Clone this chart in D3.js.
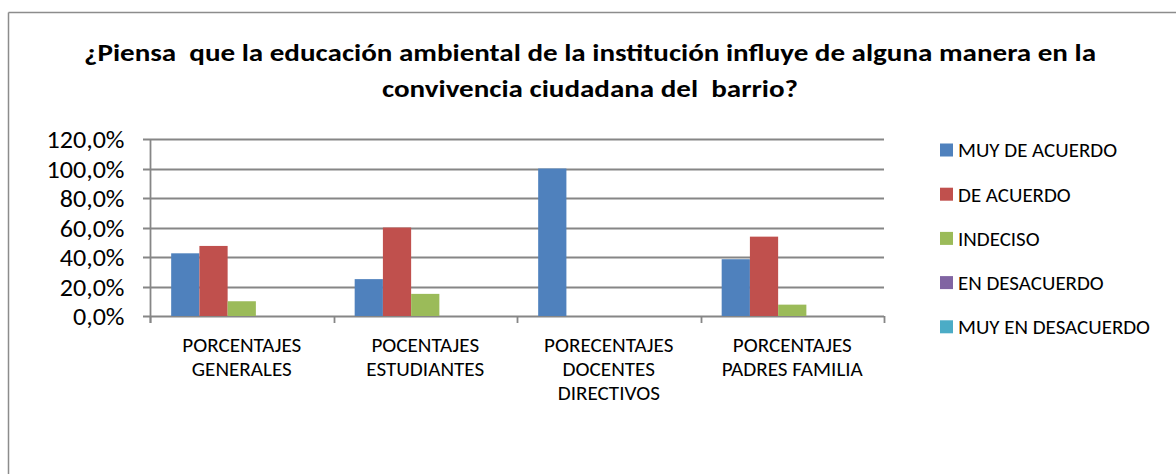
<!DOCTYPE html>
<html>
<head>
<meta charset="utf-8">
<script src="https://cdn.jsdelivr.net/npm/d3@7"></script>
<style>
  body { margin: 0; background: #fff; }
  text { font-family: Carlito, Calibri, Lato, "Open Sans", sans-serif; fill: #000; white-space: pre; }
</style>
</head>
<body>
<svg id="chart" width="1176" height="474"></svg>
<script>
// data
var categories = [
	["PORCENTAJES", "GENERALES"],
	["POCENTAJES", "ESTUDIANTES"],
	["PORECENTAJES", "DOCENTES", "DIRECTIVOS"],
	["PORCENTAJES", "PADRES FAMILIA"]
];
var series = ["MUY DE ACUERDO", "DE ACUERDO", "INDECISO", "EN DESACUERDO", "MUY EN DESACUERDO"];
var muyDeAcuerdo = [0.425, 0.25, 1.0, 0.385];
var deAcuerdo = [0.475, 0.60, 0, 0.538];
var indeciso = [0.10, 0.15, 0, 0.077];
var enDesacuerdo = [0, 0, 0, 0];
var muyEnDesacuerdo = [0, 0, 0, 0];
var yTicks = [0, 0.2, 0.4, 0.6, 0.8, 1.0, 1.2];
var titleLines = ["¿Piensa  que la educación ambiental de la institución influye de alguna manera en la", "convivencia ciudadana del  barrio?"];

var values = [muyDeAcuerdo, deAcuerdo, indeciso, enDesacuerdo, muyEnDesacuerdo];
var colors = ["#4F81BD", "#C0504D", "#9BBB59", "#8064A2", "#4BACC6"];
var gridColor = "#868686";

var svg = d3.select("#chart");

// fit a group of texts so a reference string gets the wanted width
function fitGroup(sel, refWidth, refNatural) {
	var k = refWidth / refNatural;
	sel.each(function () {
		var w = this.getComputedTextLength();
		d3.select(this).attr("textLength", w * k).attr("lengthAdjust", "spacingAndGlyphs");
	});
}

// outer frame (top and left only visible)
svg.append("line").attr("x1", 8.5).attr("y1", 12.5).attr("x2", 1176).attr("y2", 12.5)
	.attr("stroke", "#8c8c8c").attr("stroke-width", 1.5);
svg.append("line").attr("x1", 8.5).attr("y1", 12.5).attr("x2", 8.5).attr("y2", 474)
	.attr("stroke", "#8c8c8c").attr("stroke-width", 1.5);

// title
var title = svg.selectAll(".title").data(titleLines).enter().append("text")
	.attr("class", "title")
	.attr("x", 590)
	.attr("y", function (d, i) { return 61 + i * 36; })
	.attr("text-anchor", "middle")
	.style("font-size", "24px")
	.style("font-weight", "bold")
	.text(function (d) { return d; });
var t0 = title.node().getComputedTextLength();
fitGroup(title, 1012, t0);

// scales
var x0 = d3.scaleBand().domain(d3.range(categories.length)).range([150, 884]).paddingInner(0).paddingOuter(0);
var x1 = d3.scaleBand().domain(d3.range(series.length)).range([0, x0.bandwidth()]).paddingOuter(0.75);
var y = d3.scaleLinear().domain([0, 1.2]).range([316, 139]);

// gridlines
svg.append("g").selectAll("line").data(yTicks).enter().append("line")
	.attr("x1", 143).attr("x2", 884)
	.attr("y1", function (d) { return Math.round(y(d)) + 0.5; })
	.attr("y2", function (d) { return Math.round(y(d)) + 0.5; })
	.attr("stroke", gridColor).attr("stroke-width", 1.8);

// bars
var groups = svg.append("g").selectAll("g").data(categories).enter().append("g")
	.attr("transform", function (d, i) { return "translate(" + x0(i) + ",0)"; });
groups.selectAll("rect")
	.data(function (d, ci) { return values.map(function (s, si) { return { s: si, v: s[ci] }; }); })
	.enter().append("rect")
	.attr("x", function (d) { return x1(d.s); })
	.attr("width", x1.bandwidth())
	.attr("y", function (d) { return y(d.v); })
	.attr("height", function (d) { return y(0) - y(d.v); })
	.attr("fill", function (d) { return colors[d.s]; });

// axes
var yAxis = svg.append("g").attr("transform", "translate(150.5,0)")
	.call(d3.axisLeft(y).tickValues(yTicks).tickSize(0).tickPadding(26)
		.tickFormat(function (d) { return d3.format(".1f")(d * 100).replace(".", ",") + "%"; }));
yAxis.select(".domain").attr("stroke", gridColor).attr("stroke-width", 1.8).attr("d", "M0,139V323");
yAxis.selectAll("text").style("font-size", "25px").attr("dy", "0.35em")
	.style("font-family", "Carlito, Calibri, Lato, 'Open Sans', sans-serif");
var yLab = yAxis.selectAll("text");
var refY = yLab.filter(function (d) { return d === 1.2; }).node().getComputedTextLength();
fitGroup(yLab, 78, refY);

var xAxis = svg.append("g");
xAxis.selectAll("line").data(d3.range(categories.length + 1)).enter().append("line")
	.attr("x1", function (i) { return Math.round(150 + i * x0.bandwidth()) + 0.5; })
	.attr("x2", function (i) { return Math.round(150 + i * x0.bandwidth()) + 0.5; })
	.attr("y1", 316).attr("y2", 323)
	.attr("stroke", gridColor).attr("stroke-width", 1.8);

var catLabels = svg.append("g").selectAll("text").data(categories).enter().append("text")
	.attr("x", function (d, i) { return x0(i) + x0.bandwidth() / 2; })
	.attr("y", 352)
	.attr("text-anchor", "middle")
	.style("font-size", "20px");
catLabels.selectAll("tspan").data(function (d) { return d; }).enter().append("tspan")
	.attr("x", function () { return d3.select(this.parentNode).attr("x"); })
	.attr("dy", function (d, i) { return i === 0 ? 0 : 24; })
	.text(function (d) { return d; });
// condense category labels to the reference width
var catSpans = catLabels.selectAll("tspan");
var refCat = catSpans.nodes()[0].getComputedTextLength();
fitGroup(catSpans, 119, refCat);

// legend
var legend = svg.append("g").selectAll("g").data(series).enter().append("g")
	.attr("transform", function (d, i) { return "translate(940," + (150 + i * 44.2) + ")"; });
legend.append("rect").attr("x", 0).attr("y", -6.5).attr("width", 13).attr("height", 13)
	.attr("fill", function (d, i) { return colors[i]; });
var legText = legend.append("text").attr("x", 18).attr("y", 0).attr("dy", "0.35em")
	.style("font-size", "21px")
	.text(function (d) { return d; });
var refLeg = legText.nodes()[4].getComputedTextLength();
fitGroup(legText, 192, refLeg);
</script>
</body>
</html>
